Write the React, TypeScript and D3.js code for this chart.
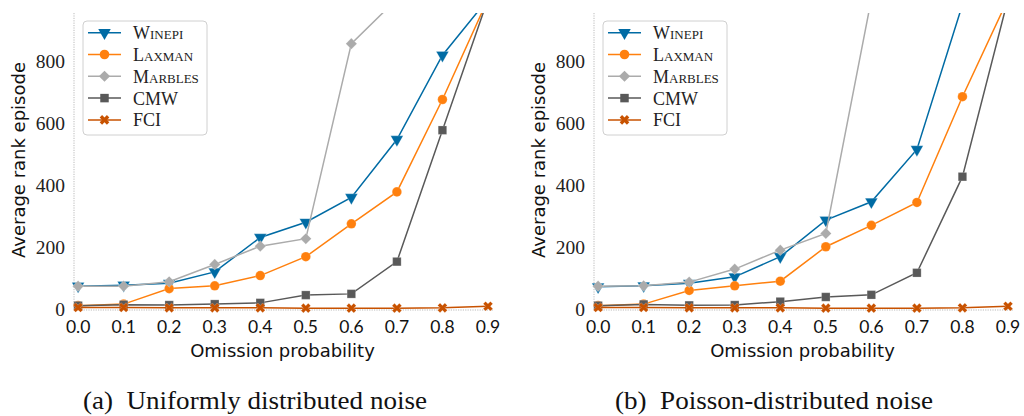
import React from "react";
import * as d3 from "d3";

const probs = [0.0, 0.1, 0.2, 0.3, 0.4, 0.5, 0.6, 0.7, 0.8, 0.9];
const xTicks = [0.0, 0.1, 0.2, 0.3, 0.4, 0.5, 0.6, 0.7, 0.8, 0.9];
const yTicks = [0, 200, 400, 600, 800];

const methods = ["Winepi", "Laxman", "Marbles", "CMW", "FCI"];
const colors = ["#006BA4", "#FF800E", "#ABABAB", "#595959", "#C85200"];

// (a) uniformly distributed noise
const uniWinepi = [74, 77, 83, 120, 231, 280, 360, 547, 819, 1000];
const uniLaxman = [11, 16, 66, 75, 108, 169, 275, 378, 676, 1000];
const uniMarbles = [74, 74, 88, 144, 203, 227, 856, 1000, 1000, 1000];
const uniCMW = [11, 14, 13, 16, 20, 45, 49, 153, 577, 1000];
const uniFCI = [5, 5, 4, 4, 4, 3, 3, 3, 4, 9];

// (b) poisson-distributed noise
const poiWinepi = [72, 75, 83, 104, 169, 287, 346, 515, 982, 1000];
const poiLaxman = [11, 16, 60, 75, 90, 201, 270, 344, 685, 1000];
const poiMarbles = [74, 75, 87, 129, 190, 244, 1000, 1000, 1000, 1000];
const poiCMW = [11, 15, 12, 13, 24, 39, 46, 117, 427, 1000];
const poiFCI = [5, 5, 4, 4, 4, 3, 3, 3, 4, 9];

const panels = [
  {
    id: "a",
    caption: "(a)\u00a0\u00a0Uniformly distributed noise",
    captionX: 255,
    captionW: 344,
    series: [uniWinepi, uniLaxman, uniMarbles, uniCMW, uniFCI],
  },
  {
    id: "b",
    caption: "(b)\u00a0\u00a0Poisson-distributed noise",
    captionX: 774,
    captionW: 318,
    series: [poiWinepi, poiLaxman, poiMarbles, poiCMW, poiFCI],
  },
];

const markerPaths = [
  d3.symbol().type(d3.symbolTriangle).size(68)(),
  d3.symbol().type(d3.symbolCircle).size(72)(),
  d3.symbol().type(d3.symbolSquare).size(62)(),
  d3.symbol().type(d3.symbolSquare).size(72)(),
  d3.symbol().type(d3.symbolCross).size(58)(),
];
const markerRot = [180, 0, 45, 0, 45];

const Panel = ({ panel, off }) => {
  const left = 74 + off;
  const right = 493 + off;
  const top = 13;
  const bottom = 310;

  const x = d3.scaleLinear().domain([-0.009, 0.911]).range([left, right]);
  const y = d3.scaleLinear().domain([-3, 955]).range([bottom, top]);

  const line = d3
    .line()
    .x((d) => x(d[0]))
    .y((d) => y(d[1]));

  const clipId = "clip-" + panel.id;
  const legendX = 83 + off;
  const legendY = 21;

  return (
    <g>
      <defs>
        <clipPath id={clipId}>
          <rect x={left - 8} y={top} width={right - left + 16} height={bottom - top + 8} />
        </clipPath>
      </defs>

      {/* spines */}
      <line x1={left} x2={left} y1={top} y2={bottom} stroke="#aaa" strokeWidth={0.8} strokeDasharray="1.2,1.2" />
      <line x1={left} x2={right} y1={bottom} y2={bottom} stroke="#aaa" strokeWidth={0.8} strokeDasharray="1.2,1.2" />

      {/* y ticks */}
      {yTicks.map((t) => (
        <text
          key={t}
          x={left - 9}
          y={y(t)}
          dy="0.34em"
          textAnchor="end"
          fontFamily="Liberation Serif"
          fontSize={19.5}
          fill="#222"
        >
          {t}
        </text>
      ))}

      {/* x ticks */}
      {xTicks.map((t) => (
        <text
          key={t}
          x={x(t)}
          y={333}
          textAnchor="middle"
          fontFamily="Lato"
          fontSize={17.5}
          fill="#111"
        >
          {t.toFixed(1)}
        </text>
      ))}

      <text
        x={(left + right) / 2 - 1}
        y={357}
        textAnchor="middle"
        fontFamily="DejaVu Sans"
        fontSize={18}
        fill="#111"
      >
        Omission probability
      </text>
      <text
        transform={`translate(${18 + off},160) rotate(-90)`}
        textAnchor="middle"
        dominantBaseline="central"
        fontFamily="DejaVu Sans"
        fontSize={18}
        fill="#111"
      >
        Average rank episode
      </text>

      {/* series */}
      <g clipPath={`url(#${clipId})`}>
        {panel.series.map((vals, i) => {
          const pts = probs.map((p, k) => [p, vals[k]]);
          return (
            <g key={i}>
              <path d={line(pts)} fill="none" stroke={colors[i]} strokeWidth={1.5} />
              {pts.map((d, k) => (
                <path
                  key={k}
                  d={markerPaths[i]}
                  transform={`translate(${x(d[0])},${y(d[1])}) rotate(${markerRot[i]})`}
                  fill={colors[i]}
                  stroke="#fff"
                  strokeOpacity={0.35}
                  strokeWidth={0.6}
                />
              ))}
            </g>
          );
        })}
      </g>

      {/* legend */}
      <rect
        x={legendX}
        y={legendY}
        width={124}
        height={114}
        rx={4}
        fill="#fff"
        fillOpacity={0.8}
        stroke="#d0d0d0"
        strokeWidth={1}
      />
      {methods.map((m, i) => {
        const ry = 32.7 + i * 21.8;
        return (
          <g key={m}>
            <line x1={legendX + 5} x2={legendX + 38} y1={ry} y2={ry} stroke={colors[i]} strokeWidth={1.5} />
            <path
              d={markerPaths[i]}
              transform={`translate(${legendX + 21.5},${ry}) rotate(${markerRot[i]})`}
              fill={colors[i]}
            />
            <text
              x={legendX + 50}
              y={ry}
              dy="0.36em"
              fontFamily="Liberation Serif"
              fontSize={18}
              style={{ fontVariant: "small-caps" }}
              fill="#222"
            >
              {m}
            </text>
          </g>
        );
      })}

      <text
        x={panel.captionX}
        y={409}
        textAnchor="middle"
        fontFamily="Liberation Serif"
        fontSize={25}
        textLength={panel.captionW}
        lengthAdjust="spacingAndGlyphs"
        fill="#111"
      >
        {panel.caption}
      </text>
    </g>
  );
};

const App = () => {
  return (
    <svg
      width={1024}
      height={416}
      style={{ position: "absolute", left: 0, top: 0, background: "#fff" }}
    >
      {panels.map((p, i) => (
        <Panel key={p.id} panel={p} off={i * 520} />
      ))}
    </svg>
  );
};

export default App;
